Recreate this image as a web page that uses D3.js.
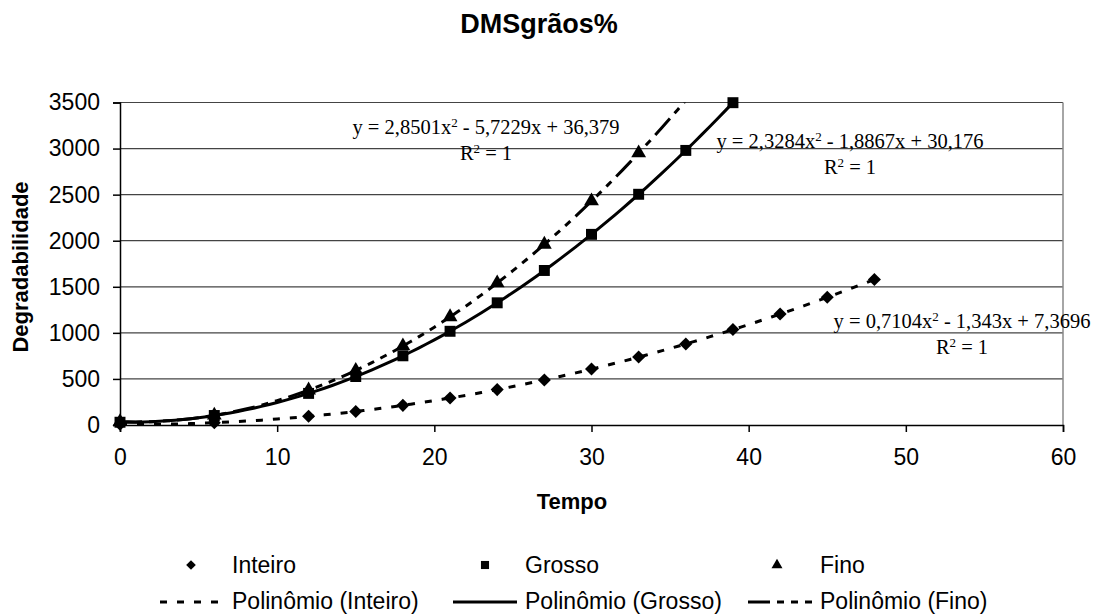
<!DOCTYPE html>
<html>
<head>
<meta charset="utf-8">
<script src="https://cdn.jsdelivr.net/npm/d3@7"></script>
<style>
  body { margin: 0; background: #fff; }
  svg { display: block; }
  .tick text { font-family: "Liberation Sans", Arial, sans-serif; font-size: 23px; fill: #000; }
</style>
</head>
<body>
<div id="chart"></div>
<script>
// Tempo values where each series was measured
const tempo = [0, 6, 12, 15, 18, 21, 24, 27, 30, 33, 36, 39, 42, 45, 48];

// Degradabilidade
const inteiro = [7, 25, 94, 147, 213, 293, 384, 489, 607, 737, 880, 1036, 1204, 1386, 1580];
const grosso = [30, 103, 343, 526, 751, 1017, 1326, 1677, 2069, 2504, 2980, 3498];
const fino = [36, 105, 378, 592, 857, 1173, 1541, 1960, 2430, 2951];

// Trendline coefficients as printed on the chart (a, b, c of ax^2 + bx + c)
const inteiroCoef = [0.7104, -1.343, 7.3696];
const grossoCoef = [2.3284, -1.8867, 30.176];
const finoCoef = [2.8501, -5.7229, 36.379];

const equations = [
  {a: '0,7104', b: '- 1,343x + 7,3696', x: 962, y: 328},
  {a: '2,3284', b: '- 1,8867x + 30,176', x: 850, y: 148},
  {a: '2,8501', b: '- 5,7229x + 36,379', x: 486, y: 134}
];

const yTicks = [0, 500, 1000, 1500, 2000, 2500, 3000, 3500];
const xTicks = [0, 10, 20, 30, 40, 50, 60];

const W = 1103, H = 616;
let margin = {top: 102.5, left: 120, right: 40, bottom: 191},
  width = 1063 - margin.left,
  height = 425 - margin.top;

const sans = '"Liberation Sans", Arial, sans-serif';
const serif = '"Liberation Serif", "Times New Roman", serif';

let svg = d3.select('#chart')
  .append('svg')
    .attr('width', W)
    .attr('height', H);

let xScale = d3.scaleLinear().domain([0, 60]).range([0, width]);
let yScale = d3.scaleLinear().domain([0, 3500]).range([height, 0]);

// Title
svg.append('text')
  .attr('x', 539).attr('y', 33)
  .attr('text-anchor', 'middle')
  .style('font-family', sans).style('font-weight', 'bold').style('font-size', '27px')
  .text('DMSgrãos%');

let g = svg.append('g')
  .attr('transform', 'translate(' + margin.left + ',' + margin.top + ')');

// gridlines
g.append('g')
  .selectAll('line')
  .data(yTicks.slice(1))
  .enter().append('line')
    .attr('x1', 0).attr('x2', width)
    .attr('y1', d => yScale(d)).attr('y2', d => yScale(d))
    .attr('stroke', '#444')
    .attr('stroke-width', 1.2);

// right border
g.append('line')
  .attr('x1', width).attr('x2', width)
  .attr('y1', 0).attr('y2', height)
  .attr('stroke', '#888').attr('stroke-width', 1.5);

// axes
let yAxis = g.append('g')
  .call(d3.axisLeft(yScale).tickValues(yTicks).tickFormat(d3.format('d')).tickSize(7).tickPadding(13));
let xAxis = g.append('g')
  .attr('transform', 'translate(0,' + height + ')')
  .call(d3.axisBottom(xScale).tickValues(xTicks).tickFormat(d3.format('d')).tickSize(7).tickPadding(12));
[yAxis, xAxis].forEach(a => {
  a.select('.domain').attr('stroke', '#000').attr('stroke-width', 1.5);
  a.selectAll('.tick line').attr('stroke', '#000').attr('stroke-width', 1.5);
});
xAxis.selectAll('.tick text').attr('dy', '0.71em').attr('y', 24);
yAxis.selectAll('.tick text').attr('x', -20);

// axis titles
svg.append('text')
  .attr('x', 572).attr('y', 509)
  .attr('text-anchor', 'middle')
  .style('font-family', sans).style('font-weight', 'bold').style('font-size', '22px')
  .text('Tempo');
svg.append('text')
  .attr('transform', 'translate(28,267) rotate(-90)')
  .attr('text-anchor', 'middle')
  .style('font-family', sans).style('font-weight', 'bold').style('font-size', '22px')
  .text('Degradabilidade');

// clip for the plot area
svg.append('defs').append('clipPath').attr('id', 'plotClip')
  .append('rect').attr('x', 0).attr('y', 0).attr('width', width).attr('height', height);

let plot = g.append('g').attr('clip-path', 'url(#plotClip)');

const poly = (c, x) => c[0] * x * x + c[1] * x + c[2];
let line = d3.line().x(d => xScale(d[0])).y(d => yScale(d[1]));

// diamond = square turned 45 degrees
const series = [
  {name: 'Inteiro', vals: inteiro, coef: inteiroCoef, symbol: d3.symbolSquare, rot: 45, size: 85, dash: '7,10', xmax: 48},
  {name: 'Grosso', vals: grosso, coef: grossoCoef, symbol: d3.symbolSquare, rot: 0, size: 120, dash: null, xmax: 39},
  {name: 'Fino', vals: fino, coef: finoCoef, symbol: d3.symbolTriangle, rot: 0, size: 95, dash: '22,7,7,7,7,7', xmax: 39}
];

// trendlines
series.forEach(s => {
  let pts = d3.range(0, s.xmax + 0.001, 0.5).map(x => [x, poly(s.coef, x)]);
  plot.append('path')
    .datum(pts)
    .attr('d', line)
    .attr('fill', 'none')
    .attr('stroke', '#000')
    .attr('stroke-width', 3)
    .attr('stroke-dasharray', s.dash);
});

// points
series.forEach(s => {
  g.append('g')
    .selectAll('path')
    .data(s.vals)
    .enter().append('path')
      .attr('d', d3.symbol().type(s.symbol).size(s.size))
      .attr('transform', (d, i) => 'translate(' + xScale(tempo[i]) + ',' + yScale(d) + ') rotate(' + s.rot + ')')
      .attr('fill', '#000');
});

// trendline equations
equations.forEach(e => {
  let t = svg.append('text')
    .attr('x', e.x).attr('y', e.y)
    .attr('text-anchor', 'middle')
    .style('font-family', serif).style('font-size', '20.5px');
  t.append('tspan').text('y = ' + e.a + 'x');
  t.append('tspan').attr('dy', -7).style('font-size', '13px').text('2');
  t.append('tspan').attr('dy', 7).text(' ' + e.b);
  let r = svg.append('text')
    .attr('x', e.x).attr('y', e.y + 26)
    .attr('text-anchor', 'middle')
    .style('font-family', serif).style('font-size', '20.5px');
  r.append('tspan').text('R');
  r.append('tspan').attr('dy', -7).style('font-size', '13px').text('2');
  r.append('tspan').attr('dy', 7).text(' = 1');
});

// legend
const legX = [191, 485, 777];
const legText = [232, 525, 820];
let legend = svg.append('g');
series.forEach((s, i) => {
  legend.append('path')
    .attr('d', d3.symbol().type(s.symbol).size(s.size * 0.55))
    .attr('transform', 'translate(' + legX[i] + ',565) rotate(' + s.rot + ')')
    .attr('fill', '#000');
  legend.append('text')
    .attr('x', legText[i]).attr('y', 565).attr('dy', '0.35em')
    .style('font-family', sans).style('font-size', '23px')
    .text(s.name);
  legend.append('line')
    .attr('x1', legText[i] - 72).attr('x2', legText[i] - 8)
    .attr('y1', 602).attr('y2', 602)
    .attr('stroke', '#000').attr('stroke-width', 3)
    .attr('stroke-dasharray', s.dash);
  legend.append('text')
    .attr('x', legText[i]).attr('y', 601).attr('dy', '0.35em')
    .style('font-family', sans).style('font-size', '23px')
    .text('Polinômio (' + s.name + ')');
});
</script>
</body>
</html>
